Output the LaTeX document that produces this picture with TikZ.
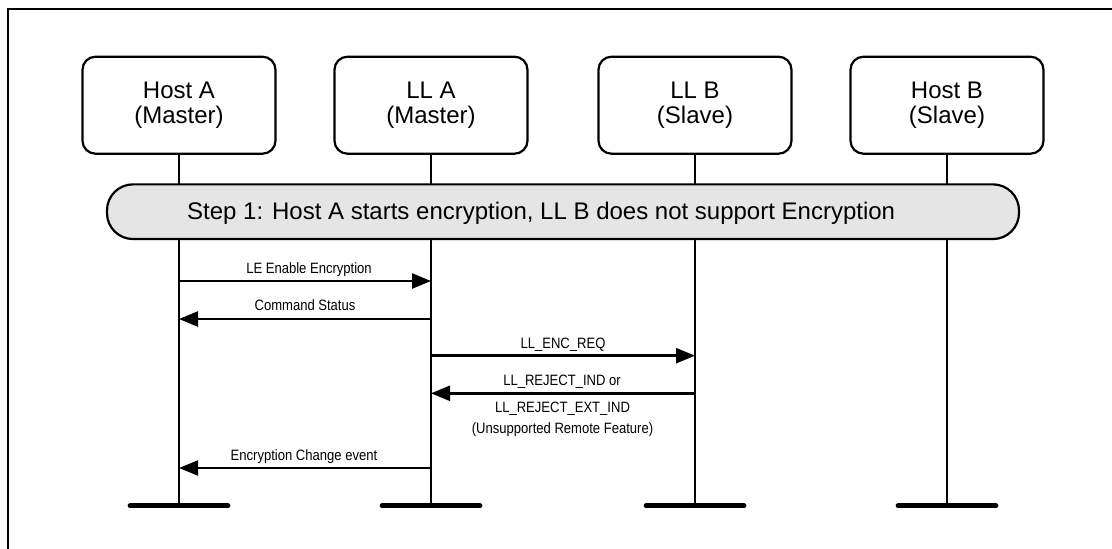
\documentclass[tikz,border=0pt]{standalone}
\usepackage{fontspec}
\setmainfont{Liberation Sans}
\newfontfamily\narrowfont{Liberation Sans}[FakeStretch=0.87]
\usetikzlibrary{arrows.meta}
\begin{document}
\begin{tikzpicture}[x=1pt,y=-1pt,
  entity/.style={draw, line width=2.2pt, rounded corners=13pt, minimum width=193pt, minimum height=97pt, align=center, font=\fontsize{24}{25}\selectfont, inner sep=0pt},
  lifeline/.style={line width=2.2pt},
  endbar/.style={line width=4.7pt, line cap=round},
  banner/.style={draw, line width=2.2pt, fill=gray!20, rounded corners=26pt, minimum width=912pt, minimum height=54.7pt, inner sep=0pt},
  bigtext/.style={font=\fontsize{24}{25}\selectfont, inner sep=0pt},
  msg/.style={line width=2.5pt, -{Triangle[length=19pt,width=15pt]}},
  lbl/.style={font=\narrowfont\fontsize{15}{18}\selectfont, anchor=base, inner sep=0pt},
]
\useasboundingbox (0,0) rectangle (1112,549);
\draw[line width=2pt] (8,549) -- (8,9) -- (1112,9);

% entities
\node[entity] (hA) at (179,105.2) {Host A\\(Master)};
\node[entity] (lA) at (431,105.2) {LL A\\(Master)};
\node[entity] (lB) at (695,105.2) {LL B\\(Slave)};
\node[entity] (hB) at (947,105.2) {Host B\\(Slave)};

% lifeline ends
\coordinate (hAe) at (179,505.7);
\coordinate (lAe) at (431,505.7);
\coordinate (lBe) at (695,505.7);
\coordinate (hBe) at (947,505.7);

\foreach \n in {hA,lA,lB,hB}{
  \draw[lifeline] (\n.south) -- (\n e);
  \draw[endbar] ([xshift=-49pt]\n e) -- ([xshift=49pt]\n e);
}

% step banner
\node[banner] (step) at (563,211.7) {};
\node[bigtext, anchor=base west] (steptxt) at (187,219) {Step 1: Host A starts encryption, LL B does not support Encryption};

% messages
\coordinate (m1s) at (179,281);   \coordinate (m1e) at (431,281);
\coordinate (m2s) at (431,319);   \coordinate (m2e) at (179,319);
\coordinate (m3s) at (431,355.7); \coordinate (m3e) at (695,355.7);
\coordinate (m4s) at (695,393.3); \coordinate (m4e) at (431,393.3);
\coordinate (m5s) at (431,468);   \coordinate (m5e) at (179,468);

\draw[msg] (m1s) -- (m1e);
\draw[msg] (m2s) -- (m2e);
\draw[msg] (m3s) -- (m3e);
\draw[msg] (m4s) -- (m4e);
\draw[msg, line width=2.1pt] (m5s) -- (m5e);

\node[lbl] (t1) at (309,273.3) {LE Enable Encryption};
\node[lbl] (t2) at (305,310.7) {Command Status};
\node[lbl] (t3) at (563,348.3) {LL\_ENC\_REQ};
\node[lbl] (t4) at (562,385) {LL\_REJECT\_IND or};
\node[lbl] (t5) at (562.5,412.3) {LL\_REJECT\_EXT\_IND};
\node[lbl] (t6) at (562.5,433.3) {(Unsupported Remote Feature)};
\node[lbl] (t7) at (304,460.7) {Encryption Change event};
\end{tikzpicture}
\end{document}
